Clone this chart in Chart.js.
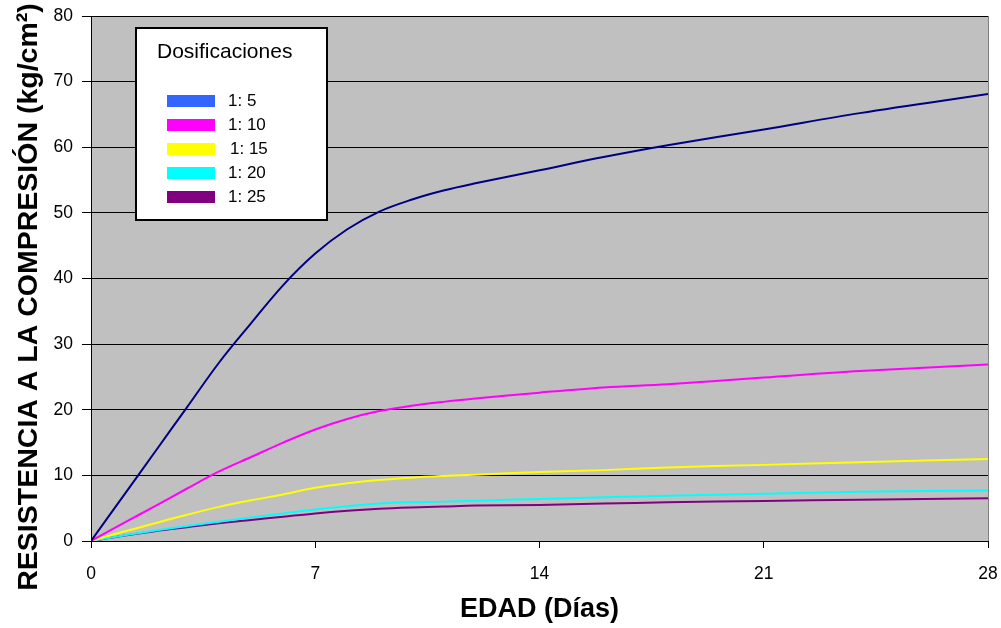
<!DOCTYPE html>
<html><head><meta charset="utf-8">
<script src="https://cdn.jsdelivr.net/npm/chart.js@4.4.0/dist/chart.umd.min.js"></script>
<style>html,body{margin:0;padding:0;background:#fff;overflow:hidden}</style>
</head><body>
<canvas id="c" width="1001" height="628" style="width:1001px;height:628px;display:block"></canvas>
<script>
// ---- data ----
const days   = [0, 1, 2, 3, 4, 5, 6, 7, 8, 9, 10, 11, 12, 14, 16, 18, 21, 24, 28];
const dos5   = [0, 6.8, 13.6, 20.4, 27.2, 33.2, 39.0, 43.8, 47.5, 50.2, 52.0, 53.4, 54.5, 56.5, 58.5, 60.3, 62.7, 65.2, 68.1];
const dos10  = [0, 2.7, 5.3, 8.0, 10.6, 12.8, 15.0, 17.0, 18.6, 19.8, 20.6, 21.2, 21.7, 22.6, 23.4, 23.9, 24.9, 25.9, 26.9];
const dos15  = [0, 1.4, 2.7, 4.0, 5.2, 6.2, 7.1, 8.1, 8.8, 9.3, 9.65, 9.9, 10.1, 10.5, 10.8, 11.2, 11.6, 12.0, 12.5];
const dos20  = [0, 0.85, 1.6, 2.3, 2.95, 3.6, 4.2, 4.8, 5.3, 5.7, 5.9, 6.0, 6.15, 6.4, 6.65, 6.9, 7.2, 7.5, 7.7];
const dos25  = [0, 0.8, 1.5, 2.1, 2.7, 3.2, 3.7, 4.2, 4.6, 4.9, 5.1, 5.25, 5.4, 5.5, 5.7, 5.9, 6.1, 6.3, 6.5];
const seriesLabels = ['1: 5', '1: 10', '1: 15', '1: 20', '1: 25'];
const lineColors   = ['#000080', '#FF00FF', '#FFFF00', '#00FFFF', '#800080'];
const legendColors = ['#3366FF', '#FF00FF', '#FFFF00', '#00FFFF', '#800080'];
const xTickValues = [0, 7, 14, 21, 28];
const yTickValues = [0, 10, 20, 30, 40, 50, 60, 70, 80];
const legendTitle = 'Dosificaciones';
const xTitle = 'EDAD (Días)';
const yTitle = 'RESISTENCIA A LA COMPRESIÓN (kg/cm²)';

const FONT = "'Liberation Sans', Arial, sans-serif";
const allSeries = [dos5, dos10, dos15, dos20, dos25];

const datasets = allSeries.map((vals, i) => ({
  label: seriesLabels[i],
  data: days.map((d, j) => ({x: d, y: vals[j]})),
  borderColor: lineColors[i],
  backgroundColor: legendColors[i],
  borderWidth: 2,
  pointRadius: 0,
  fill: false,
  tension: 0.35
}));

const plotBg = {
  id: 'plotBg',
  beforeDraw(chart) {
    const {ctx, chartArea: a} = chart;
    ctx.save();
    ctx.fillStyle = '#C0C0C0';
    ctx.fillRect(a.left, a.top, a.right - a.left, a.bottom - a.top);
    ctx.restore();
  },
  afterDatasetsDraw(chart) {
    const {ctx, chartArea: a} = chart;
    ctx.save();
    ctx.strokeStyle = '#808080';
    ctx.lineWidth = 1;
    ctx.beginPath();
    ctx.moveTo(a.right + 0.5, a.top);
    ctx.lineTo(a.right + 0.5, a.bottom);
    ctx.stroke();
    ctx.restore();
  }
};

const yTitlePlugin = {
  id: 'yTitlePlugin',
  afterDraw(chart) {
    const ctx = chart.ctx;
    ctx.save();
    ctx.translate(29, 297);
    ctx.rotate(-Math.PI / 2);
    ctx.font = 'bold 28.5px ' + FONT;
    ctx.fillStyle = '#000';
    ctx.textAlign = 'center';
    ctx.textBaseline = 'middle';
    ctx.fillText(yTitle, 0, 0);
    ctx.restore();
  }
};

const boxLegend = {
  id: 'boxLegend',
  afterDraw(chart) {
    const ctx = chart.ctx;
    const bx = 136, by = 28, bw = 191, bh = 192;
    ctx.save();
    ctx.fillStyle = '#fff';
    ctx.fillRect(bx, by, bw, bh);
    ctx.strokeStyle = '#000';
    ctx.lineWidth = 2;
    ctx.strokeRect(bx, by, bw, bh);
    ctx.fillStyle = '#000';
    ctx.font = '21px ' + FONT;
    ctx.textAlign = 'left';
    ctx.textBaseline = 'middle';
    ctx.fillText(legendTitle, 157, 52);
    chart.data.datasets.forEach((ds, i) => {
      const cy = 101 + i * 24;
      ctx.fillStyle = ds.backgroundColor;
      ctx.fillRect(167, cy - 6, 48, 12);
      ctx.fillStyle = '#000';
      ctx.font = '17px ' + FONT;
      ctx.fillText(ds.label, i === 2 ? 230 : 228, cy);
    });
    ctx.restore();
  }
};

new Chart(document.getElementById('c'), {
  type: 'line',
  data: {datasets},
  plugins: [plotBg, yTitlePlugin, boxLegend],
  options: {
    responsive: false,
    devicePixelRatio: 1,
    animation: false,
    layout: {padding: {top: 16, right: 13, left: 0, bottom: 0}},
    plugins: {legend: {display: false}, tooltip: {enabled: false}},
    scales: {
      x: {
        type: 'linear', min: 0, max: 28,
        afterBuildTicks: s => { s.ticks = xTickValues.map(v => ({value: v})); },
        afterFit: s => { s.height = 87; s.paddingLeft = 0; s.paddingRight = 0; },
        grid: {drawOnChartArea: false, drawTicks: true, tickLength: 7, color: '#000', tickColor: '#000'},
        border: {display: true, color: '#000', width: 1},
        ticks: {color: '#000', font: {family: FONT, size: 17.5}, padding: 16, maxRotation: 0, autoSkip: false},
        title: {display: true, text: xTitle, color: '#000', font: {family: FONT, size: 27, weight: 'bold'}, padding: {top: 0, bottom: 2}}
      },
      y: {
        type: 'linear', min: 0, max: 80,
        afterBuildTicks: s => { s.ticks = yTickValues.map(v => ({value: v})); },
        afterFit: s => { s.width = 91; s.paddingTop = 0; s.paddingBottom = 0; },
        grid: {color: '#000', lineWidth: 1, drawTicks: true, tickLength: 9, tickColor: '#000'},
        border: {display: true, color: '#000', width: 1},
        ticks: {color: '#000', font: {family: FONT, size: 17.5}, padding: 9}
      }
    }
  }
});
</script>
</body></html>
